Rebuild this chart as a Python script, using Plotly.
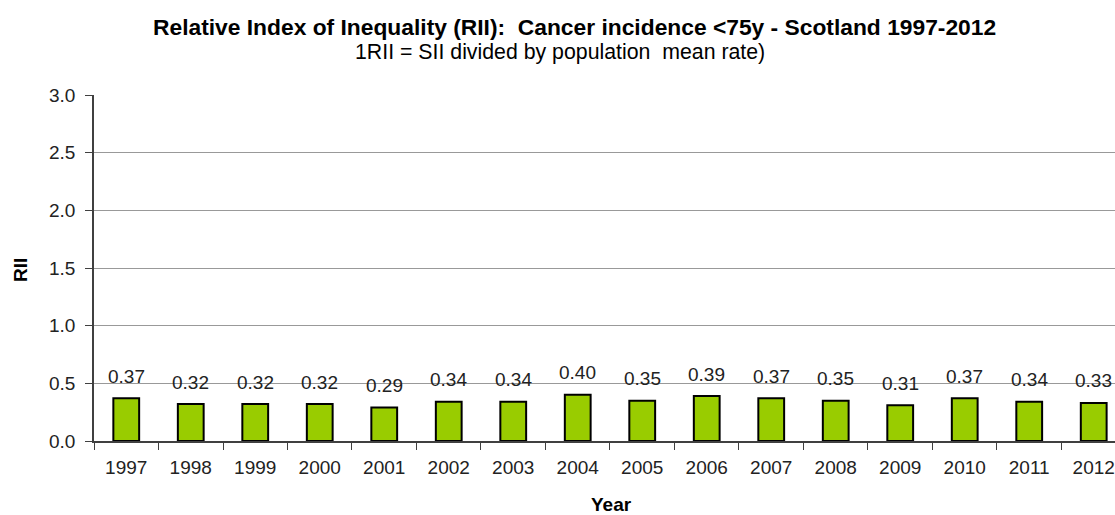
import plotly.graph_objects as go

# Relative Index of Inequality, cancer incidence under 75, Scotland
years = [str(y) for y in range(1997, 2013)]
rii = [0.37, 0.32, 0.32, 0.32, 0.29, 0.34, 0.34, 0.40,
       0.35, 0.39, 0.37, 0.35, 0.31, 0.37, 0.34, 0.33]
y_ticks = [0.0, 0.5, 1.0, 1.5, 2.0, 2.5, 3.0]

FONT = "Liberation Sans, Arial, sans-serif"
TXT = "#222222"

fig = go.Figure()
fig.add_trace(go.Bar(
    x=years, y=rii, width=0.4,
    marker=dict(color="#99CC00", line=dict(color="#000000", width=2)),
    hoverinfo="x+y",
))

# value labels above each bar (category axis positions are indices)
for i, v in enumerate(rii):
    fig.add_annotation(x=i, y=v, xref="x", yref="y", text=f"{v:.2f}",
                       showarrow=False, yanchor="middle", yshift=22,
                       font=dict(family=FONT, size=19, color=TXT))

W, H = 1115, 515
L, R, T, B = 94, 0, 95, 74
pw, ph = W - L - R, H - T - B

def px_x(px):
    return (px - L) / pw

def px_y(py):
    return (H - B - py) / ph

fig.add_annotation(xref="paper", yref="paper", x=px_x(574), y=px_y(27),
                   text="<b>Relative Index of Inequality (RII):  Cancer incidence &lt;75y - Scotland 1997-2012</b>",
                   showarrow=False, xanchor="center", yanchor="middle",
                   font=dict(family=FONT, size=22.8, color="#000000"))
fig.add_annotation(xref="paper", yref="paper", x=px_x(560), y=px_y(52),
                   text="1RII = SII divided by population  mean rate)",
                   showarrow=False, xanchor="center", yanchor="middle",
                   font=dict(family=FONT, size=21.3, color="#000000"))
fig.add_annotation(xref="paper", yref="paper", x=px_x(20), y=px_y(270),
                   text="<b>RII</b>", textangle=-90,
                   showarrow=False, xanchor="center", yanchor="middle",
                   font=dict(family=FONT, size=19, color="#000000"))
fig.add_annotation(xref="paper", yref="paper", x=px_x(611), y=px_y(504),
                   text="<b>Year</b>",
                   showarrow=False, xanchor="center", yanchor="middle",
                   font=dict(family=FONT, size=19, color="#000000"))

fig.update_layout(
    width=W, height=H,
    margin=dict(l=L, r=R, t=T, b=B, pad=0),
    paper_bgcolor="white", plot_bgcolor="white",
    showlegend=False,
    bargap=0.6,
)
fig.update_xaxes(
    type="category", range=[-0.5, 15.33],
    tickson="boundaries", ticks="outside", ticklen=7, tickcolor="#404040",
    showline=True, linecolor="#404040", linewidth=1.5,
    showgrid=False, zeroline=False,
    tickfont=dict(family=FONT, size=19, color=TXT),
    ticklabelstandoff=8,
)
fig.update_yaxes(
    range=[0, 3.0], tickvals=y_ticks, ticktext=[f"{t:.1f}" for t in y_ticks],
    ticks="outside", ticklen=7, tickcolor="#404040",
    showline=True, linecolor="#404040", linewidth=1.5,
    showgrid=True, gridcolor="#999999", gridwidth=1,
    zeroline=False,
    tickfont=dict(family=FONT, size=19, color=TXT),
    ticklabelstandoff=6,
)

fig.write_html("out.html")
